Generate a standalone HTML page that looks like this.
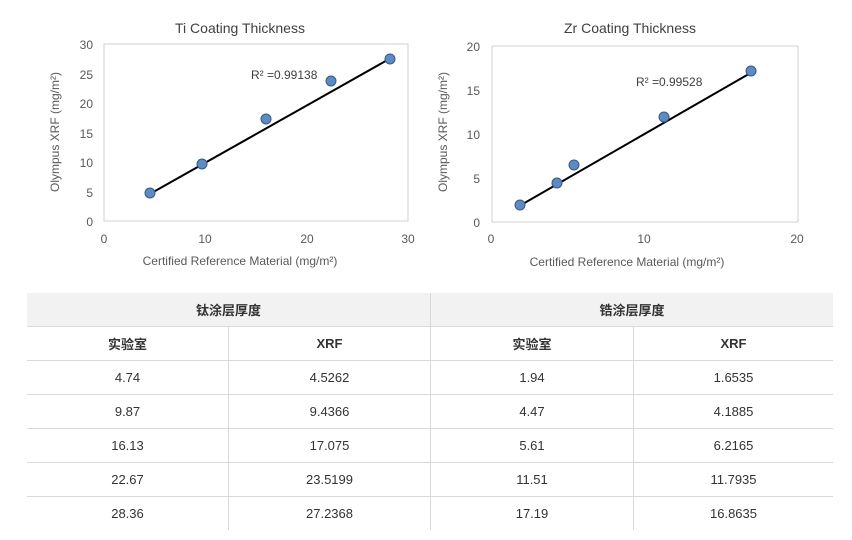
<!DOCTYPE html>
<html><head><meta charset="utf-8"><style>
body{margin:0;width:852px;height:540px;background:#fff;overflow:hidden;font-family:"Liberation Sans","Noto Sans CJK SC",sans-serif;}
svg{position:absolute;left:0;top:0}
table{position:absolute;left:27px;top:293px;width:806px;border-collapse:collapse;font-size:13px;color:#333;}
td{height:33px;text-align:center;border-top:1px solid #d9d9d9;padding:0;}
td+td{border-left:1px solid #d9d9d9;}
tr.h td{background:#f2f2f2;font-weight:bold;border-top:none;}
tr.s td{font-weight:bold;}
</style></head><body>
<svg width="852" height="290" font-family="Liberation Sans, sans-serif" fill="#595959">
<g font-size="13">
<text x="240" y="33" text-anchor="middle" fill="#404040" font-size="14">Ti Coating Thickness</text>
<rect x="104" y="44" width="304" height="177" fill="#fff" stroke="#d0d0d0"/>
<g text-anchor="end" font-size="12"><text x="93" y="226">0</text><text x="93" y="197">5</text><text x="93" y="167">10</text><text x="93" y="138">15</text><text x="93" y="108">20</text><text x="93" y="79">25</text><text x="93" y="49">30</text></g>
<g text-anchor="middle" font-size="12"><text x="104" y="243">0</text><text x="205" y="243">10</text><text x="307" y="243">20</text><text x="408" y="243">30</text></g>
<text x="240" y="265" text-anchor="middle" font-size="12">Certified Reference Material (mg/m²)</text>
<text transform="translate(59,132) rotate(-90)" text-anchor="middle" font-size="12">Olympus XRF (mg/m²)</text>
<line x1="148" y1="195" x2="391" y2="58" stroke="#000" stroke-width="2"/>
<g fill="#5b8ac5" stroke="#3a5a80" stroke-width="1"><circle cx="150" cy="193" r="5"/><circle cx="202" cy="164" r="5"/><circle cx="266" cy="119" r="5"/><circle cx="331" cy="81" r="5"/><circle cx="390" cy="59" r="5"/></g>
<text x="251" y="79" font-size="12" fill="#404040">R² =0.99138</text>

<text x="630" y="33" text-anchor="middle" fill="#404040" font-size="14">Zr Coating Thickness</text>
<rect x="492" y="46" width="306" height="176" fill="#fff" stroke="#d0d0d0"/>
<g text-anchor="end" font-size="12"><text x="480" y="227">0</text><text x="480" y="183">5</text><text x="480" y="139">10</text><text x="480" y="95">15</text><text x="480" y="51">20</text></g>
<g text-anchor="middle" font-size="12"><text x="491" y="243">0</text><text x="644" y="243">10</text><text x="797" y="243">20</text></g>
<text x="627" y="266" text-anchor="middle" font-size="12">Certified Reference Material (mg/m²)</text>
<text transform="translate(447,132) rotate(-90)" text-anchor="middle" font-size="12">Olympus XRF (mg/m²)</text>
<line x1="521" y1="205" x2="754" y2="71" stroke="#000" stroke-width="2"/>
<g fill="#5b8ac5" stroke="#3a5a80" stroke-width="1"><circle cx="520" cy="205" r="5"/><circle cx="557" cy="183" r="5"/><circle cx="574" cy="165" r="5"/><circle cx="664" cy="117" r="5"/><circle cx="751" cy="71" r="5"/></g>
<text x="636" y="86" font-size="12" fill="#404040">R² =0.99528</text>
</g></svg>
<table>
<tr class="h"><td colspan="2">钛涂层厚度</td><td colspan="2">锆涂层厚度</td></tr>
<tr class="s"><td style="width:201px">实验室</td><td style="width:201px">XRF</td><td style="width:202px">实验室</td><td>XRF</td></tr>
<tr><td>4.74</td><td>4.5262</td><td>1.94</td><td>1.6535</td></tr>
<tr><td>9.87</td><td>9.4366</td><td>4.47</td><td>4.1885</td></tr>
<tr><td>16.13</td><td>17.075</td><td>5.61</td><td>6.2165</td></tr>
<tr><td>22.67</td><td>23.5199</td><td>11.51</td><td>11.7935</td></tr>
<tr><td>28.36</td><td>27.2368</td><td>17.19</td><td>16.8635</td></tr>
</table>
</body></html>
